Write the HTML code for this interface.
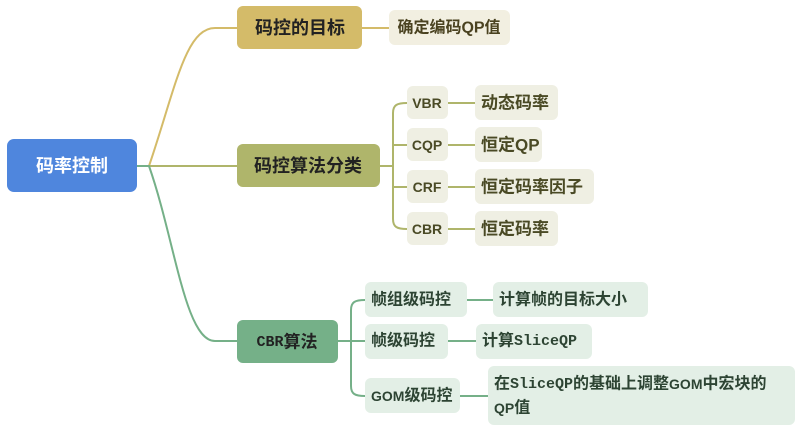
<!DOCTYPE html>
<html><head><meta charset="utf-8"><style>
html,body{margin:0;padding:0;background:#fff;width:804px;height:435px;overflow:hidden}
text{font-family:"Liberation Sans","Noto Sans CJK SC",sans-serif;font-weight:bold;dominant-baseline:central}
.m{font-family:"Liberation Mono","Noto Sans CJK SC",monospace}
</style></head><body>
<svg width="804" height="435" viewBox="0 0 804 435" xmlns="http://www.w3.org/2000/svg">
<g fill="none" stroke-width="2">
<path d="M149 166 C175 90 185 28 215 28 L237 28" stroke="#d4bb69"/>
<path d="M362 28 L389 28" stroke="#d4bb69"/>
<path d="M137 166 L237 166" stroke="#afb56b"/>
<path d="M137 166 L149 166 C175 240 185 341 215 341 L237 341" stroke="#75b088"/>
<path d="M380 166 L393 166 M407 103 C397 103 393 105 393 113 L393 219 C393 227 397 229 407 229 M393 145 L407 145 M393 187 L407 187" stroke="#afb56b"/>
<path d="M448 103 L475 103 M448 145 L475 145 M448 187 L475 187 M448 229 L475 229" stroke="#afb56b"/>
<path d="M338 341 L365 341 M365 300 C355 300 351 302 351 310 L351 386 C351 394 355 396 365 396" stroke="#75b088"/>
<path d="M467 300 L493 300 M448 341 L476 341 M460 396 L488 396" stroke="#75b088"/>
</g>
<rect x="7" y="139" width="130" height="53" rx="7" fill="#4f86dd"/>
<text x="72" y="166" text-anchor="middle" fill="#fff" font-size="18">码率控制</text>
<rect x="237" y="6" width="125" height="43" rx="6" fill="#d4bb69"/>
<text x="300" y="28" text-anchor="middle" fill="#222" font-size="18">码控的目标</text>
<rect x="237" y="144" width="143" height="43" rx="6" fill="#afb56b"/>
<text x="308" y="166" text-anchor="middle" fill="#222" font-size="18">码控算法分类</text>
<rect x="237" y="320" width="101" height="43" rx="6" fill="#75b088"/>
<text x="287" y="342" text-anchor="middle" fill="#222" font-size="17"><tspan class="m" font-size="15">CBR</tspan>算法</text>
<rect x="389" y="10" width="121" height="35" rx="6" fill="#f2efe1"/>
<text x="449" y="28" text-anchor="middle" fill="#4a4220" font-size="16">确定编码QP值</text>
<g fill="#efefe3">
<rect x="407" y="86" width="41" height="33" rx="6"/><rect x="407" y="128" width="41" height="33" rx="6"/>
<rect x="407" y="170" width="41" height="33" rx="6"/><rect x="407" y="212" width="41" height="33" rx="6"/>
<rect x="475" y="85" width="83" height="35" rx="6"/><rect x="475" y="127" width="67" height="35" rx="6"/>
<rect x="475" y="169" width="119" height="35" rx="6"/><rect x="475" y="211" width="83" height="35" rx="6"/>
</g>
<g fill="#4a4a25" font-size="14" text-anchor="middle">
<text x="427" y="103">VBR</text><text x="427" y="145">CQP</text><text x="427" y="187">CRF</text><text x="427" y="229">CBR</text>
</g>
<g fill="#4a4a25" font-size="17">
<text x="481" y="103">动态码率</text><text x="481" y="145">恒定QP</text><text x="481" y="187">恒定码率因子</text><text x="481" y="229">恒定码率</text>
</g>
<g fill="#e3efe6">
<rect x="365" y="282" width="102" height="35" rx="6"/><rect x="365" y="324" width="83" height="35" rx="6"/><rect x="365" y="378" width="95" height="35" rx="6"/>
<rect x="493" y="282" width="155" height="35" rx="6"/><rect x="476" y="324" width="116" height="35" rx="6"/><rect x="488" y="366" width="307" height="59" rx="6"/>
</g>
<g fill="#2d4433" font-size="16">
<text x="371" y="300">帧组级码控</text><text x="371" y="341">帧级码控</text>
<text x="371" y="396"><tspan font-size="14">GOM</tspan>级码控</text>
<text x="499" y="300">计算帧的目标大小</text>
<text x="482" y="341">计算<tspan class="m" font-size="15">SliceQP</tspan></text>
<text x="494" y="384">在<tspan class="m" font-size="15">SliceQP</tspan>的基础上调整<tspan font-size="14">GOM</tspan>中宏块的</text>
<text x="494" y="408"><tspan font-size="14">QP</tspan>值</text>
</g>
</svg>
</body></html>
